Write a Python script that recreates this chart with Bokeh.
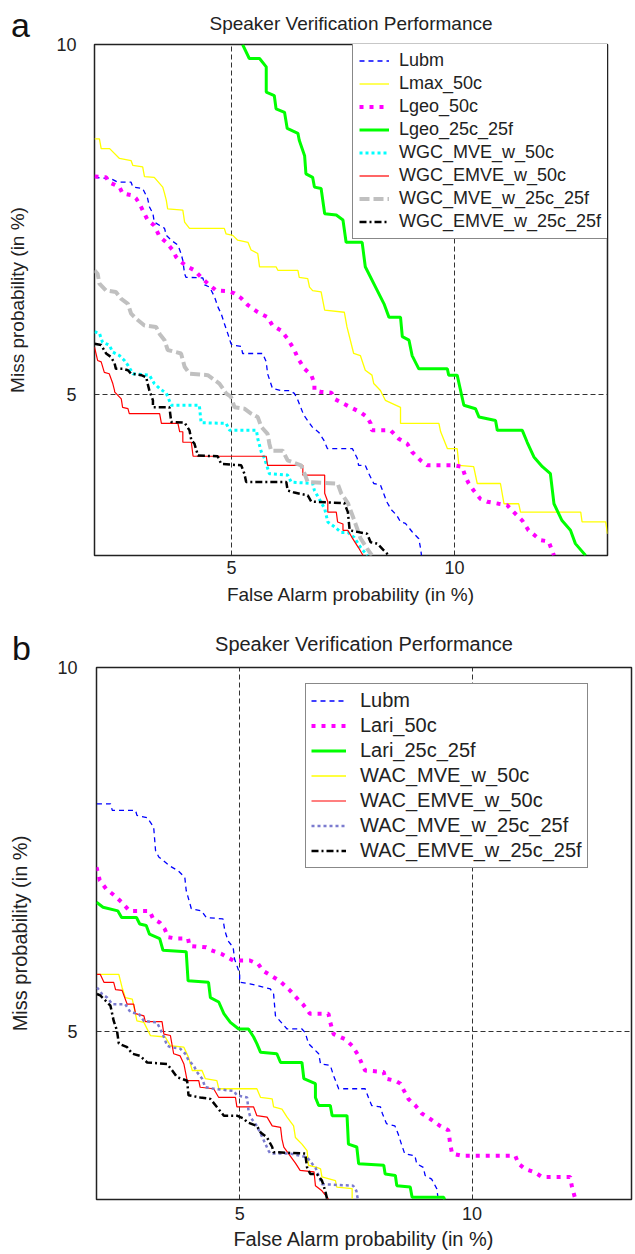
from bokeh.plotting import figure
from bokeh.models import FixedTicker, Range1d, Div
from bokeh.embed import file_html
from bokeh.resources import INLINE

FONT = "Liberation Sans"
TXT = "#222222"
TITLE = "Speaker Verification Performance"
XLABEL = "False Alarm probability (in %)"
YLABEL = "Miss probability (in %)"
XTICKS = [5, 10]
YTICKS = [5, 10]

# ---------------- panel a data (percent) ----------------
A_LUBM_X = [1.93, 2.30, 2.45, 2.75, 2.79, 3.01, 3.12, 3.16, 3.24, 3.27, 3.50, 3.54, 3.65, 3.80, 3.87, 3.91, 3.95, 3.98, 4.36, 4.40,
            4.51, 4.62, 4.70, 4.77, 4.84, 4.92, 4.99, 5.03, 5.22, 5.25, 5.70, 5.78, 5.81, 5.92, 6.11, 6.30, 6.41, 6.49, 6.62, 6.81,
            6.96, 7.07, 7.15, 7.71, 7.82, 7.85, 8.00, 8.08, 8.19, 8.34, 8.41, 8.48, 8.59, 8.70, 8.79, 8.90, 9.05, 9.20, 9.24, 9.26]
A_LUBM_Y = [8.10, 8.08, 8.03, 8.03, 7.96, 7.94, 7.80, 7.68, 7.58, 7.46, 7.37, 7.27, 7.20, 7.13, 7.01, 6.91, 6.72, 6.67, 6.66, 6.56,
            6.53, 6.39, 6.24, 6.15, 6.01, 5.86, 5.72, 5.70, 5.68, 5.58, 5.58, 5.46, 5.29, 5.08, 5.05, 5.05, 5.01, 4.91, 4.70, 4.53,
            4.45, 4.34, 4.22, 4.22, 4.08, 3.98, 3.98, 3.86, 3.72, 3.70, 3.58, 3.46, 3.34, 3.27, 3.17, 3.15, 3.03, 2.93, 2.79, 2.69]

A_LMAX_X = [1.93, 2.04, 2.08, 2.27, 2.49, 2.75, 2.79, 3.01, 3.05, 3.27, 3.46, 3.50, 3.54, 3.57, 3.91, 3.95, 4.06, 4.84, 4.88, 5.03,
            5.14, 5.37, 5.44, 5.59, 5.63, 6.00, 6.04, 6.49, 6.52, 6.71, 6.75, 6.82, 7.01, 7.09, 7.53, 7.59, 7.74, 7.89, 8.00, 8.15,
            8.19, 8.34, 8.45, 8.79, 8.79, 9.65, 9.69, 9.84, 10.06, 10.10, 10.43, 10.51, 11.03, 11.11, 11.44, 11.48, 12.83, 12.86, 13.39, 13.43]
A_LMAX_Y = [8.65, 8.65, 8.51, 8.51, 8.37, 8.34, 8.27, 8.25, 8.11, 8.10, 7.96, 7.87, 7.77, 7.65, 7.63, 7.46, 7.37, 7.37, 7.29, 7.27,
            7.20, 7.17, 7.06, 7.01, 6.82, 6.82, 6.77, 6.77, 6.67, 6.65, 6.53, 6.48, 6.46, 6.20, 6.17, 5.96, 5.58, 5.55, 5.34, 5.27,
            5.15, 5.05, 4.91, 4.81, 4.58, 4.58, 4.46, 4.22, 4.22, 3.98, 3.96, 3.72, 3.72, 3.43, 3.43, 3.31, 3.31, 3.17, 3.17, 3.00]

A_LGEO50_X = [1.93, 2.19, 2.26, 2.49, 2.56, 2.79, 2.86, 2.94, 3.01, 3.12, 3.27, 3.39, 3.54, 3.68, 3.76, 3.87, 4.02, 4.17, 4.32, 4.47,
              4.66, 4.92, 5.07, 5.22, 5.37, 5.59, 5.81, 5.92, 6.11, 6.26, 6.41, 6.49, 6.64, 6.79, 6.86, 6.86, 7.01, 7.24, 7.31, 7.67,
              7.89, 8.04, 8.12, 8.15, 8.57, 8.75, 8.94, 9.05, 9.24, 9.39, 9.98, 10.17, 10.25, 10.32, 10.43, 10.58, 10.73, 10.99, 11.18, 11.33,
              11.52, 11.66, 11.93, 12.11, 12.23]
A_LGEO50_Y = [8.11, 8.10, 8.03, 7.96, 7.87, 7.84, 7.80, 7.72, 7.63, 7.49, 7.41, 7.25, 7.17, 7.06, 6.96, 6.89, 6.82, 6.77, 6.67, 6.58,
              6.48, 6.47, 6.44, 6.37, 6.27, 6.17, 6.10, 5.98, 5.91, 5.79, 5.63, 5.51, 5.36, 5.27, 5.15, 5.05, 5.03, 5.02, 4.93, 4.81,
              4.74, 4.67, 4.58, 4.48, 4.48, 4.36, 4.29, 4.17, 4.05, 3.98, 3.98, 3.96, 3.81, 3.72, 3.62, 3.50, 3.46, 3.43, 3.41, 3.31,
              3.19, 3.05, 2.91, 2.89, 2.69]

A_LGEO25_X = [5.25, 5.40, 5.63, 5.78, 5.78, 5.96, 6.00, 6.19, 6.25, 6.49, 6.52, 6.64, 6.67, 6.82, 6.86, 7.01, 7.09, 7.35, 7.50, 7.57,
              7.93, 8.00, 8.27, 8.42, 8.53, 8.79, 8.83, 8.98, 9.05, 9.20, 9.84, 9.87, 10.06, 10.21, 10.47, 10.55, 10.92, 10.96, 11.52, 11.63,
              11.78, 11.97, 12.15, 12.23, 12.41, 12.60, 12.71, 12.94]
A_LGEO25_Y = [10.0, 9.80, 9.80, 9.68, 9.32, 9.27, 9.08, 9.03, 8.80, 8.73, 8.63, 8.41, 8.15, 8.10, 7.96, 7.94, 7.58, 7.56, 7.49, 7.17,
              7.17, 6.82, 6.48, 6.29, 6.10, 6.10, 5.82, 5.77, 5.55, 5.36, 5.36, 5.27, 5.27, 4.84, 4.79, 4.67, 4.62, 4.48, 4.48, 4.31,
              4.10, 3.96, 3.86, 3.43, 3.19, 3.05, 2.86, 2.69]

A_WGC_MVE50_X = [1.93, 2.04, 2.11, 2.26, 2.34, 2.49, 2.60, 2.68, 2.79, 3.16, 3.27, 3.39, 3.54, 3.65, 4.28, 4.32, 4.88, 4.96, 5.56, 5.59,
                 5.67, 5.74, 5.85, 6.26, 6.34, 6.82, 6.86, 6.94, 7.09, 7.16, 7.31, 7.46, 7.61, 7.75, 7.90, 8.05]
A_WGC_MVE50_Y = [5.89, 5.87, 5.74, 5.70, 5.60, 5.55, 5.48, 5.41, 5.29, 5.27, 5.15, 5.08, 5.01, 4.84, 4.84, 4.59, 4.58, 4.48, 4.48, 4.36,
                 4.17, 4.08, 3.86, 3.84, 3.74, 3.72, 3.62, 3.53, 3.36, 3.17, 3.10, 3.02, 3.02, 2.95, 2.80, 2.69]

A_WGC_EMVE50_X = [1.93, 2.00, 2.08, 2.15, 2.26, 2.34, 2.38, 2.38, 2.53, 2.56, 2.68, 2.71, 3.39, 3.43, 3.80, 3.84, 3.91, 3.91, 4.10, 4.14,
                  5.78, 5.81, 6.60, 6.60, 7.09, 7.09, 7.16, 7.16, 7.35, 7.38, 7.50, 7.50, 7.61, 7.70, 7.85, 7.95]
A_WGC_EMVE50_Y = [5.67, 5.48, 5.46, 5.31, 5.29, 5.15, 5.05, 5.03, 4.93, 4.81, 4.79, 4.72, 4.72, 4.58, 4.58, 4.46, 4.46, 4.31, 4.31, 4.11,
                  4.11, 3.98, 3.98, 3.84, 3.84, 3.58, 3.46, 3.31, 3.31, 3.17, 3.14, 3.05, 3.05, 2.95, 2.80, 2.69]

A_WGC_MVE25_X = [1.93, 2.00, 2.04, 2.19, 2.41, 2.53, 2.68, 2.75, 2.86, 3.05, 3.31, 3.39, 3.50, 3.57, 3.87, 3.95, 4.06, 4.47, 4.73, 4.88,
                 4.99, 5.07, 5.29, 5.44, 5.59, 5.67, 5.81, 5.85, 5.89, 6.15, 6.26, 6.56, 6.64, 6.71, 7.38, 7.46, 7.61, 7.75, 7.89, 8.05, 8.15]
A_WGC_MVE25_Y = [6.77, 6.72, 6.58, 6.48, 6.46, 6.36, 6.29, 6.15, 6.08, 5.98, 5.96, 5.86, 5.77, 5.63, 5.58, 5.39, 5.29, 5.27, 5.15, 5.01,
                 4.96, 4.81, 4.79, 4.72, 4.67, 4.53, 4.43, 4.29, 4.19, 4.19, 4.05, 3.98, 3.86, 3.74, 3.72, 3.58, 3.44, 3.20, 2.94, 2.78, 2.69]

A_WGC_EMVE25_X = [1.93, 2.08, 2.19, 2.30, 2.38, 2.41, 2.56, 2.68, 2.75, 2.98, 3.09, 3.12, 3.16, 3.24, 3.24, 3.61, 3.65, 3.95, 4.06, 4.10,
                  4.17, 4.25, 4.69, 4.77, 5.22, 5.29, 5.33, 6.23, 6.26, 6.41, 6.71, 6.79, 7.53, 7.61, 7.65, 8.04, 8.12, 8.27, 8.42, 8.53]
A_WGC_EMVE25_Y = [5.72, 5.70, 5.58, 5.53, 5.44, 5.36, 5.36, 5.34, 5.29, 5.27, 5.24, 5.15, 5.05, 4.91, 4.81, 4.81, 4.60, 4.59, 4.48, 4.34,
                  4.29, 4.12, 4.11, 4.00, 3.98, 3.86, 3.74, 3.74, 3.62, 3.59, 3.55, 3.46, 3.44, 3.31, 3.05, 3.00, 2.88, 2.86, 2.76, 2.69]

# ---------------- panel b data (percent) ----------------
B_LUBM_X = [1.93, 2.22, 2.26, 2.76, 2.79, 3.01, 3.15, 3.19, 3.26, 3.49, 3.68, 3.82, 3.85, 3.96, 4.18, 4.28, 4.64, 4.68, 4.75, 4.86,
            4.89, 5.00, 5.00, 5.22, 5.66, 5.73, 5.77, 6.02, 6.34, 6.41, 6.48, 6.70, 6.74, 6.95, 7.02, 7.13, 7.70, 7.77, 7.84, 8.03,
            8.07, 8.16, 8.34, 8.41, 8.48, 8.55, 8.77, 8.81, 8.95, 8.99, 9.13, 9.24, 9.27]
B_LUBM_Y = [8.13, 8.13, 8.04, 8.04, 7.97, 7.94, 7.81, 7.49, 7.40, 7.28, 7.21, 7.12, 6.94, 6.69, 6.66, 6.57, 6.55, 6.39, 6.25, 6.16,
            6.00, 5.80, 5.68, 5.66, 5.59, 5.52, 5.22, 5.04, 5.04, 4.99, 4.84, 4.70, 4.56, 4.54, 4.40, 4.22, 4.22, 4.10, 3.99, 3.97,
            3.88, 3.74, 3.71, 3.60, 3.46, 3.33, 3.30, 3.19, 3.14, 3.03, 2.98, 2.85, 2.71]

B_LARI50_X = [1.92, 1.99, 2.13, 2.31, 2.46, 2.63, 3.06, 3.14, 3.28, 3.39, 3.46, 3.64, 3.89, 3.92, 4.28, 4.39, 4.61, 4.86, 5.22, 5.40,
              5.50, 5.68, 5.86, 6.08, 6.22, 6.36, 6.51, 6.91, 6.95, 7.02, 7.27, 7.42, 7.56, 7.63, 7.70, 8.10, 8.13, 8.35, 8.46, 8.53,
              8.63, 8.78, 8.92, 9.09, 9.31, 9.49, 9.53, 9.57, 9.78, 10.93, 11.00, 11.14, 11.36, 11.50, 12.11, 12.15, 12.22]
B_LARI50_Y = [7.26, 7.08, 6.96, 6.87, 6.78, 6.66, 6.66, 6.55, 6.50, 6.41, 6.30, 6.28, 6.28, 6.18, 6.16, 6.12, 6.07, 5.98, 5.98, 5.93,
              5.84, 5.77, 5.70, 5.57, 5.47, 5.38, 5.25, 5.25, 5.13, 4.97, 4.90, 4.81, 4.67, 4.56, 4.47, 4.45, 4.36, 4.33, 4.29, 4.20,
              4.08, 3.99, 3.88, 3.81, 3.71, 3.65, 3.46, 3.33, 3.30, 3.30, 3.19, 3.12, 3.07, 3.01, 3.01, 2.87, 2.71]

B_LARI25_X = [1.92, 2.06, 2.38, 2.46, 2.78, 2.85, 2.99, 3.06, 3.28, 3.35, 3.85, 3.89, 4.33, 4.37, 4.55, 4.66, 4.80, 4.98, 5.19, 5.30,
              5.37, 5.45, 5.80, 5.88, 6.34, 6.38, 6.63, 6.63, 6.70, 6.95, 6.99, 7.31, 7.34, 7.52, 7.56, 8.10, 8.13, 8.35, 8.38, 8.67,
              8.71, 9.39, 9.41]
B_LARI25_Y = [6.78, 6.71, 6.66, 6.57, 6.57, 6.48, 6.46, 6.34, 6.28, 6.12, 6.10, 5.70, 5.68, 5.47, 5.41, 5.25, 5.13, 5.04, 5.04, 4.93,
              4.84, 4.72, 4.70, 4.58, 4.58, 4.36, 4.29, 4.10, 3.99, 3.99, 3.85, 3.85, 3.46, 3.42, 3.19, 3.17, 3.05, 3.03, 2.89, 2.87,
              2.73, 2.73, 2.70]

B_WAC_MVE50_X = [1.93, 2.40, 2.47, 2.54, 2.69, 2.79, 2.94, 3.08, 3.40, 3.51, 3.80, 3.90, 3.98, 4.19, 4.26, 4.51, 4.55, 5.37, 5.45, 5.70,
                 5.73, 5.91, 6.02, 6.16, 6.20, 6.34, 6.45, 6.48, 6.66, 6.74, 6.77, 7.06, 7.09, 7.42, 7.42]
B_WAC_MVE50_Y = [5.79, 5.79, 5.61, 5.47, 5.45, 5.15, 5.13, 4.95, 4.93, 4.81, 4.79, 4.65, 4.47, 4.47, 4.36, 4.33, 4.22, 4.22, 4.10, 4.08,
                 3.97, 3.94, 3.83, 3.71, 3.55, 3.46, 3.37, 3.17, 3.14, 3.12, 3.01, 2.96, 2.87, 2.85, 2.71]

B_WAC_EMVE50_X = [1.93, 2.00, 2.08, 2.29, 2.33, 2.47, 2.58, 2.72, 2.76, 2.94, 2.97, 3.33, 3.37, 3.51, 3.58, 3.72, 3.80, 3.87, 4.12, 4.15,
                  4.44, 4.55, 4.91, 4.94, 5.30, 5.37, 5.59, 5.70, 5.88, 5.91, 5.95, 6.20, 6.30, 6.60, 6.63, 6.77, 6.91]
B_WAC_EMVE50_Y = [5.79, 5.79, 5.68, 5.68, 5.58, 5.57, 5.38, 5.38, 5.25, 5.22, 5.14, 5.14, 4.97, 4.95, 4.70, 4.67, 4.56, 4.33, 4.33, 4.24,
                  4.22, 4.10, 4.10, 3.97, 3.97, 3.85, 3.83, 3.71, 3.69, 3.53, 3.42, 3.20, 3.10, 3.08, 2.89, 2.82, 2.71]

B_WAC_MVE25_X = [1.93, 2.04, 2.15, 2.26, 2.54, 2.65, 2.83, 2.94, 3.22, 3.29, 3.37, 3.44, 3.51, 3.72, 3.83, 3.90, 4.01, 4.08, 4.19, 4.26,
                 4.44, 4.87, 4.94, 5.16, 5.19, 5.23, 5.37, 5.52, 5.62, 5.66, 6.09, 6.45, 6.56, 6.63, 6.77, 7.44, 7.51, 7.54]
B_WAC_MVE25_Y = [5.61, 5.52, 5.47, 5.38, 5.38, 5.27, 5.25, 5.15, 5.13, 5.04, 4.93, 4.81, 4.79, 4.77, 4.70, 4.61, 4.54, 4.45, 4.36, 4.24,
                 4.22, 4.19, 4.13, 4.10, 3.92, 3.83, 3.71, 3.51, 3.37, 3.33, 3.33, 3.28, 3.19, 3.14, 2.91, 2.89, 2.82, 2.71]

B_WAC_EMVE25_X = [1.93, 2.00, 2.08, 2.22, 2.29, 2.36, 2.40, 2.58, 2.69, 2.86, 3.01, 3.44, 3.55, 3.65, 3.87, 3.90, 4.15, 4.37, 4.51, 4.66,
                  4.94, 5.09, 5.16, 5.37, 5.45, 5.59, 5.70, 5.73, 6.41, 6.45, 6.52, 6.66, 6.77, 6.84, 6.88]
B_WAC_EMVE25_Y = [5.52, 5.50, 5.45, 5.36, 5.15, 5.02, 4.84, 4.79, 4.70, 4.67, 4.58, 4.56, 4.47, 4.38, 4.33, 4.13, 4.10, 4.08, 3.97, 3.85,
                  3.85, 3.81, 3.76, 3.71, 3.62, 3.55, 3.42, 3.35, 3.33, 3.14, 3.05, 3.05, 2.96, 2.82, 2.71]

# ---------------- styles ----------------
ST_LUBM = dict(line_color="#0000ff", line_width=1.3, line_dash="5 4")
ST_YEL = dict(line_color="#ffff00", line_width=1.3)
ST_MAG = dict(line_color="#ff00ff", line_width=4, line_dash="4 6")
ST_GRN = dict(line_color="#00ff00", line_width=3)
ST_CYAN = dict(line_color="#00ffff", line_width=3, line_dash="3 3")
ST_RED = dict(line_color="#ff0000", line_width=1.2)
ST_GRAY = dict(line_color="#c0c0c0", line_width=4, line_dash="10 4")
ST_BLK = dict(line_color="#000000", line_width=2.5, line_dash="7 3 2 3")
ST_SLATE = dict(line_color="#7b7bcf", line_width=2.5, line_dash="3 3")

SERIES_A = [
    ("Lubm", A_LUBM_X, A_LUBM_Y, ST_LUBM),
    ("Lmax_50c", A_LMAX_X, A_LMAX_Y, ST_YEL),
    ("Lgeo_50c", A_LGEO50_X, A_LGEO50_Y, ST_MAG),
    ("Lgeo_25c_25f", A_LGEO25_X, A_LGEO25_Y, ST_GRN),
    ("WGC_MVE_w_50c", A_WGC_MVE50_X, A_WGC_MVE50_Y, ST_CYAN),
    ("WGC_EMVE_w_50c", A_WGC_EMVE50_X, A_WGC_EMVE50_Y, ST_RED),
    ("WGC_MVE_w_25c_25f", A_WGC_MVE25_X, A_WGC_MVE25_Y, ST_GRAY),
    ("WGC_EMVE_w_25c_25f", A_WGC_EMVE25_X, A_WGC_EMVE25_Y, ST_BLK),
]
SERIES_B = [
    ("Lubm", B_LUBM_X, B_LUBM_Y, ST_LUBM),
    ("Lari_50c", B_LARI50_X, B_LARI50_Y, ST_MAG),
    ("Lari_25c_25f", B_LARI25_X, B_LARI25_Y, ST_GRN),
    ("WAC_MVE_w_50c", B_WAC_MVE50_X, B_WAC_MVE50_Y, ST_YEL),
    ("WAC_EMVE_w_50c", B_WAC_EMVE50_X, B_WAC_EMVE50_Y, ST_RED),
    ("WAC_MVE_w_25c_25f", B_WAC_MVE25_X, B_WAC_MVE25_Y, ST_SLATE),
    ("WAC_EMVE_w_25c_25f", B_WAC_EMVE25_X, B_WAC_EMVE25_Y, ST_BLK),
]


def make_panel(series, width, height, bl, br, bt, bb, xr, yr, fs, tick_fs, title_standoff,
               x_lab_standoff, x_axis_standoff, y_lab_standoff, y_axis_standoff,
               leg_loc, leg_fs, leg_glyph_w, leg_row_h, leg_spacing, leg_pad, leg_standoff):
    p = figure(width=width, height=height, output_backend="svg", toolbar_location=None,
               x_range=Range1d(*xr), y_range=Range1d(*yr), title=TITLE,
               min_border_left=bl, min_border_right=br, min_border_top=bt, min_border_bottom=bb)
    p.title.align = "center"
    p.title.text_font = FONT
    p.title.text_font_size = fs
    p.title.text_font_style = "normal"
    p.title.text_color = TXT
    p.title.standoff = title_standoff

    p.xaxis.ticker = FixedTicker(ticks=XTICKS)
    p.yaxis.ticker = FixedTicker(ticks=YTICKS)
    p.xaxis.axis_label = XLABEL
    p.yaxis.axis_label = YLABEL
    for ax in p.axis:
        ax.axis_line_color = None
        ax.major_tick_line_color = None
        ax.minor_tick_line_color = None
        ax.major_tick_out = 0
        ax.major_tick_in = 0
        ax.minor_tick_out = 0
        ax.minor_tick_in = 0
        ax.major_label_text_font = FONT
        ax.major_label_text_font_size = tick_fs
        ax.major_label_text_color = TXT
        ax.axis_label_text_font = FONT
        ax.axis_label_text_font_size = fs
        ax.axis_label_text_font_style = "normal"
        ax.axis_label_text_color = TXT
    p.xaxis.major_label_standoff = x_lab_standoff
    p.xaxis.axis_label_standoff = x_axis_standoff
    p.yaxis.major_label_standoff = y_lab_standoff
    p.yaxis.axis_label_standoff = y_axis_standoff

    p.grid.grid_line_color = "#333333"
    p.grid.grid_line_dash = "5 3"
    p.grid.grid_line_width = 1
    p.outline_line_color = "#222222"
    p.outline_line_width = 1.5
    p.background_fill_color = "white"
    p.border_fill_color = "white"

    for name, xs, ys, st in series:
        p.line(xs, ys, legend_label=name, **st)

    leg = p.legend[0]
    leg.location = leg_loc
    leg.margin = 0
    leg.padding = leg_pad
    leg.spacing = leg_spacing
    leg.glyph_width = leg_glyph_w
    leg.glyph_height = leg_row_h
    leg.label_height = leg_row_h
    leg.label_standoff = leg_standoff
    leg.label_text_font = FONT
    leg.label_text_font_size = leg_fs
    leg.label_text_color = TXT
    leg.border_line_color = "#111111"
    leg.border_line_width = 1
    leg.background_fill_color = "white"
    leg.background_fill_alpha = 1.0
    return p


# panel a: canvas 635 x 618, frame x 94..607, y 44..555
pa = make_panel(SERIES_A, 635, 618, 94, 28, 44, 63, (1.93, 13.43), (2.69, 10.0), "19px", "18px", 21,
                5, 7, 18, 25, (258, 316), "18px", 30, 21, 2, 6, 10)
# panel b: canvas 635 x 636, frame x 96..631, y 49..581 (page 667..1199)
pb = make_panel(SERIES_B, 635, 636, 96, 4, 49, 55, (1.92, 13.43), (2.70, 10.0), "20px", "18px", 25,
                7, 5, 19, 23, (209, 331), "20px", 35, 23, 2, 5, 14)


def letter(txt, left, top):
    return Div(text=txt, margin=0, width=30, height=40,
               styles={"position": "absolute", "left": f"{left}px", "top": f"{top}px",
                       "font-family": FONT, "font-size": "34px", "line-height": "34px",
                       "color": "#111111", "z-index": "10"})


# separate roots, so the two plot frames are laid out independently
open("out.html", "w").write(file_html([pa, pb, letter("a", 11, 8), letter("b", 12, 631)], INLINE))
